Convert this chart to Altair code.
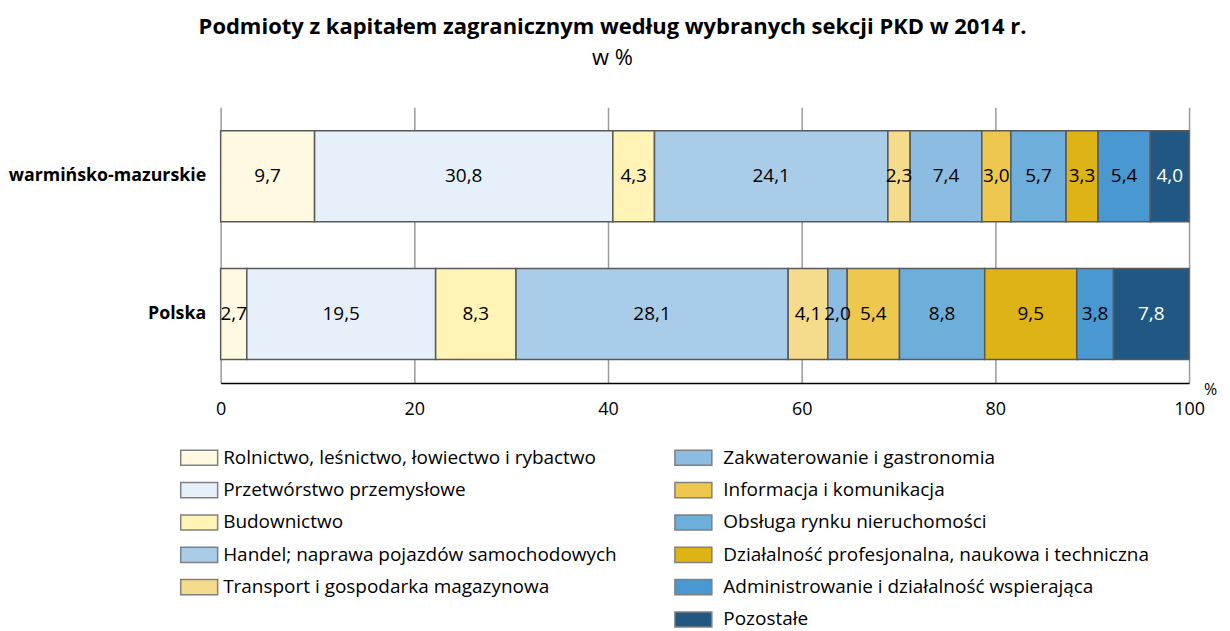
import altair as alt
import pandas as pd

regions = ["warmińsko-mazurskie", "Polska"]
categories = [
    "Rolnictwo, leśnictwo, łowiectwo i rybactwo",
    "Przetwórstwo przemysłowe",
    "Budownictwo",
    "Handel; naprawa pojazdów samochodowych",
    "Transport i gospodarka magazynowa",
    "Zakwaterowanie i gastronomia",
    "Informacja i komunikacja",
    "Obsługa rynku nieruchomości",
    "Działalność profesjonalna, naukowa i techniczna",
    "Administrowanie i działalność wspierająca",
    "Pozostałe",
]
colors = ["#FFF9E1", "#E6F0FA", "#FFF3B5", "#A9CDE9", "#F4DC8C", "#8DBCE2",
          "#EEC84E", "#6DAEDB", "#DEB316", "#4A98D2", "#215883"]
values_wm = [9.7, 30.8, 4.3, 24.1, 2.3, 7.4, 3.0, 5.7, 3.3, 5.4, 4.0]
values_pl = [2.7, 19.5, 8.3, 28.1, 4.1, 2.0, 5.4, 8.8, 9.5, 3.8, 7.8]
x_ticks = [0, 20, 40, 60, 80, 100]

FONT = "Open Sans"

rows = []
for reg, vals in zip(regions, [values_wm, values_pl]):
    for i, (c, v) in enumerate(zip(categories, vals)):
        rows.append({"region": reg, "category": c, "order": i, "value": v})
df = pd.DataFrame(rows)

leg_rows = []
for i, c in enumerate(categories):
    col = 0 if i < 5 else 1
    row = i if i < 5 else i - 5
    leg_rows.append({"category": c, "col": col, "row": row})
leg = pd.DataFrame(leg_rows)

color_scale = alt.Scale(domain=categories, range=colors)

base = alt.Chart(df).transform_window(
    cum="sum(value)", sort=[alt.SortField("order")], groupby=["region"],
    frame=[None, 0]
).transform_calculate(
    start="datum.cum - datum.value",
    mid="datum.cum - datum.value / 2",
    label="replace(format(datum.value, '.1f'), '.', ',')",
)

y_enc = alt.Y("region:N", sort=regions, title=None,
              scale=alt.Scale(paddingInner=0.34, paddingOuter=0.17),
              axis=alt.Axis(labelFont=FONT, labelFontSize=17.8, labelFontWeight="bold",
                            labelColor="#000", labelPadding=15, labelLimit=400,
                            ticks=False, domain=False,
                            grid=False, minExtent=205, maxExtent=213))

x_enc = alt.X("start:Q", scale=alt.Scale(domain=[0, 100], nice=False),
              axis=alt.Axis(values=x_ticks, labelFont=FONT, labelFontSize=18, labelColor="#000",
                            labelPadding=18, labelFlush=False, ticks=False,
                            domainColor="#000", domainWidth=1.5,
                            gridColor="#9a9a9a", gridWidth=1.5,
                            title="%", titleFont=FONT, titleFontSize=16, titleFontWeight="normal",
                            titleX=991, titleY=7, titleAlign="center", titleBaseline="middle",
                            titleColor="#000"))

bars = base.mark_bar(stroke="#595959", strokeWidth=1.5).encode(
    x=x_enc,
    x2="cum:Q",
    y=y_enc,
    color=alt.Color("category:N", scale=color_scale, legend=None),
)

labels = base.mark_text(font=FONT, fontSize=19, baseline="middle", align="center").encode(
    x=alt.X("mid:Q"),
    y=alt.Y("region:N", sort=regions),
    text="label:N",
    color=alt.condition(alt.datum.category == "Pozostałe", alt.value("white"), alt.value("black")),
)

main = alt.layer(bars, labels)

leg_base = alt.Chart(leg)
lx = alt.X("col:Q", scale=alt.Scale(domain=[0, 1], range=[-21.5, 473.5]), axis=None)
ly = alt.Y("row:Q", scale=alt.Scale(domain=[0, 5], range=[351, 513]), axis=None)

leg_sym = leg_base.mark_point(
    shape="M-1,-0.41H1V0.41H-1Z", size=1369, filled=True, opacity=1,
    stroke="#808080", strokeWidth=1.5
).encode(x=lx, y=ly, fill=alt.Fill("category:N", scale=color_scale, legend=None))

leg_txt_l = leg_base.transform_filter("datum.col == 0").mark_text(
    font=FONT, fontSize=19, align="left", baseline="middle", dx=24, color="#000"
).encode(x=lx, y=ly, text="category:N")

leg_txt_r = leg_base.transform_filter("datum.col == 1").mark_text(
    font=FONT, fontSize=19, align="left", baseline="middle", dx=30, color="#000"
).encode(x=lx, y=ly, text="category:N")

legend = alt.layer(leg_sym, leg_txt_l, leg_txt_r)

chart = alt.layer(main, legend).resolve_scale(
    x="independent", y="independent", color="independent", fill="independent"
).properties(
    width=970, height=276,
    padding={"left": 0, "right": 5, "top": 8, "bottom": 0},
    title=alt.TitleParams(
        text="Podmioty z kapitałem zagranicznym według wybranych sekcji PKD w 2014 r.",
        subtitle="w %", font=FONT, fontSize=22, fontWeight="bold", color="#000",
        subtitleFont=FONT, subtitleFontSize=22, subtitleColor="#000", subtitlePadding=9,
        anchor="middle", frame="bounds", offset=37,
    ),
).configure_view(stroke=None)

chart.save("out.html", embed_options={"renderer": "svg", "actions": False})
